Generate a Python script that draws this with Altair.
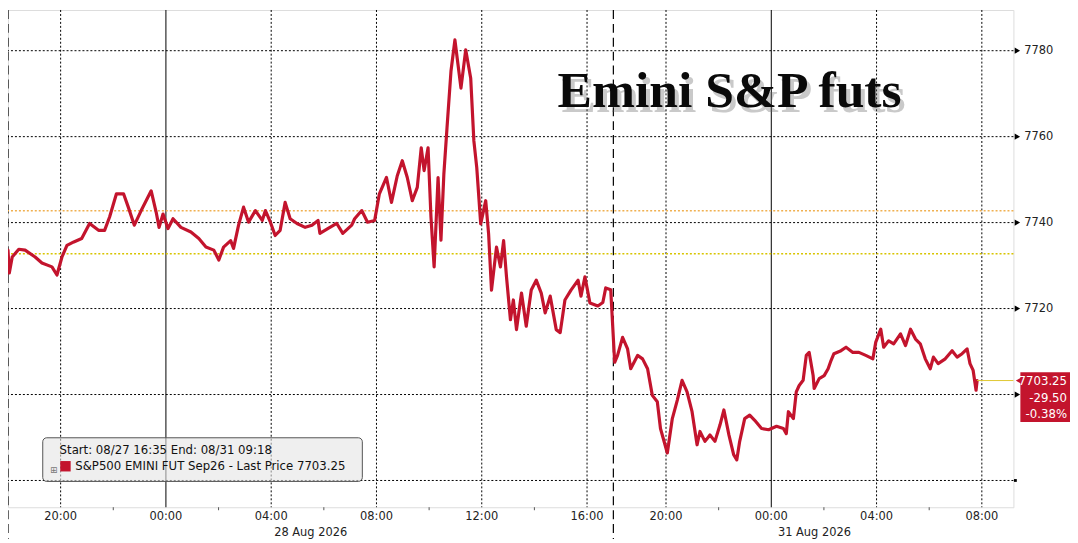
import altair as alt
import pandas as pd

# ---------------- data ----------------
# x = trading-session hours since Thu 27 Aug 18:00 (weekend gap removed:
# Fri 17:00 == Sun 18:00 == 23), y = last price
hours = [0.00, 0.05, 0.16, 0.41, 0.65, 1.03, 1.29, 1.67, 1.86, 2.05,
         2.24, 2.50, 2.80, 3.10, 3.44, 3.67, 3.86, 4.12, 4.39, 4.57,
         4.80, 5.06, 5.44, 5.63, 5.74, 5.89, 6.08, 6.27, 6.57, 6.95,
         7.25, 7.52, 7.82, 8.01, 8.19, 8.46, 8.57, 8.76, 8.95, 9.14,
         9.40, 9.66, 9.78, 9.97, 10.15, 10.34, 10.53, 10.72, 10.98, 11.29,
         11.55, 11.78, 11.85, 12.15, 12.49, 12.72, 13.06, 13.17, 13.44, 13.66,
         13.93, 14.11, 14.38, 14.57, 14.79, 14.98, 15.17, 15.36, 15.55, 15.70,
         15.81, 15.96, 16.07, 16.19, 16.34, 16.45, 16.56, 16.68, 16.83, 16.98,
         17.21, 17.39, 17.58, 17.70, 17.81, 17.96, 18.15, 18.26, 18.37, 18.56,
         18.71, 18.83, 18.94, 19.09, 19.20, 19.32, 19.51, 19.69, 19.88, 20.07,
         20.26, 20.41, 20.60, 20.83, 20.98, 21.16, 21.39, 21.66, 21.77, 21.92,
         22.11, 22.41, 22.60, 22.71, 22.90, 23.05, 23.16, 23.35, 23.54, 23.66,
         23.92, 24.11, 24.30, 24.48, 24.67, 24.79, 25.05, 25.24, 25.43, 25.61,
         25.80, 25.99, 26.18, 26.29, 26.48, 26.67, 26.86, 27.05, 27.20, 27.39,
         27.57, 27.69, 27.80, 27.99, 28.18, 28.37, 28.63, 28.90, 29.20, 29.46,
         29.57, 29.65, 29.84, 29.95, 30.06, 30.21, 30.33, 30.44, 30.59, 30.63,
         30.82, 31.01, 31.16, 31.27, 31.38, 31.65, 31.84, 32.10, 32.33, 32.59,
         32.86, 32.97, 33.16, 33.27, 33.46, 33.65, 33.91, 34.10, 34.29, 34.48,
         34.66, 34.85, 35.04, 35.16, 35.34, 35.61, 35.87, 36.06, 36.25, 36.44,
         36.55, 36.67, 36.78, 36.82]
prices = [7733.6, 7728.3, 7732.0, 7733.8, 7733.6, 7732.0, 7730.6, 7729.7, 7727.8, 7732.0,
          7734.7, 7735.5, 7736.3, 7739.8, 7738.2, 7738.2, 7741.3, 7746.7, 7746.7, 7743.6,
          7739.4, 7742.8, 7747.4, 7742.4, 7738.9, 7742.0, 7738.6, 7740.9, 7738.9, 7737.8,
          7736.3, 7734.3, 7733.6, 7731.3, 7734.3, 7735.8, 7734.0, 7739.4, 7743.6, 7740.1,
          7742.8, 7740.5, 7742.8, 7740.1, 7737.0, 7738.2, 7744.7, 7740.9, 7739.8, 7738.9,
          7739.4, 7740.5, 7737.5, 7738.6, 7739.8, 7737.5, 7739.4, 7740.9, 7742.8, 7740.1,
          7740.5, 7746.7, 7750.5, 7744.7, 7750.9, 7754.4, 7750.5, 7745.1, 7748.2, 7757.4,
          7752.1, 7757.4, 7741.3, 7729.7, 7750.5, 7735.9, 7751.3, 7762.1, 7775.2, 7782.5,
          7771.3, 7780.2, 7773.6, 7759.0, 7752.8, 7739.7, 7745.1, 7737.4, 7724.3, 7734.3,
          7729.7, 7735.8, 7727.4, 7717.4, 7722.0, 7715.1, 7723.6, 7715.9, 7724.3, 7726.6,
          7723.6, 7719.0, 7722.9, 7715.1, 7714.4, 7722.0, 7724.3, 7726.6, 7722.9, 7727.4,
          7721.3, 7720.6, 7721.4, 7724.8, 7724.4, 7707.5, 7709.1, 7713.3, 7710.6, 7706.0,
          7709.1, 7708.3, 7706.0, 7699.8, 7698.3, 7692.1, 7686.4, 7694.4, 7698.7, 7703.3,
          7700.6, 7696.0, 7688.3, 7691.4, 7689.1, 7690.6, 7689.1, 7692.9, 7696.4, 7690.6,
          7686.0, 7684.8, 7689.1, 7694.4, 7695.2, 7694.0, 7692.1, 7691.8, 7692.6, 7692.1,
          7690.9, 7696.0, 7694.4, 7700.6, 7702.1, 7703.3, 7709.1, 7709.8, 7704.4, 7701.4,
          7703.7, 7704.4, 7706.0, 7707.9, 7709.5, 7710.2, 7711.0, 7709.8, 7709.8, 7709.1,
          7708.3, 7712.2, 7715.2, 7711.0, 7712.5, 7711.8, 7714.1, 7711.4, 7715.2, 7712.9,
          7711.8, 7708.3, 7706.0, 7708.7, 7707.2, 7708.3, 7710.2, 7708.7, 7709.5, 7710.6,
          7707.2, 7705.6, 7701.0, 7703.25]

series_name = "S&P500 EMINI FUT Sep26 - Last Price 7703.25"
legend_title = "Start: 08/27 16:35 End: 08/31 09:18"
chart_title = "Emini S&P futs"

last_price = 7703.25
prev_close = 7732.75
orange_level = 7742.75
box_lines = ["7703.25", "-29.50", "-0.38%"]

time_ticks = [2, 6, 10, 14, 18, 22, 25, 29, 33, 37]
time_labels = ["20:00", "00:00", "04:00", "08:00", "12:00", "16:00",
               "20:00", "00:00", "04:00", "08:00"]
dotted_times = [2, 10, 14, 18, 22, 25, 33, 37]
midnights = [6, 29]
session_breaks = [0, 23]
minor_ticks = [4, 8, 12, 16, 20, 27, 31, 35]
price_ticks = [7680, 7700, 7720, 7740, 7760, 7780]
price_labels = ["7720", "7740", "7760", "7780"]
price_label_vals = [7720, 7740, 7760, 7780]
marker_ticks = [7700, 7720, 7740, 7760, 7780]
date_centers = [11.5, 30.64]
date_labels = ["28 Aug 2026", "31 Aug 2026"]

# ---------------- layout ----------------
W, H = 1013, 501
RED = "#c3142d"
FONT = "DejaVu Sans"

xs = alt.Scale(domain=[0, 38.2], nice=False, zero=False)
ys = alt.Scale(domain=[7673.77, 7789.47], nice=False, zero=False)

price_df = pd.DataFrame({"t": hours, "price": prices, "series": series_name})

hgrid = alt.Chart(pd.DataFrame({"v": price_ticks})).mark_rule(
    color="#000", strokeWidth=1, strokeDash=[2, 2]
).encode(y=alt.Y("v:Q", scale=ys, axis=None))

vgrid = alt.Chart(pd.DataFrame({"t": dotted_times})).mark_rule(
    color="#000", strokeWidth=1, strokeDash=[2, 2]
).encode(x=alt.X("t:Q", scale=xs, axis=None))

vmid = alt.Chart(pd.DataFrame({"t": midnights})).mark_rule(
    color="#000", strokeWidth=1
).encode(x=alt.X("t:Q", scale=xs, axis=None))

vbreak = alt.Chart(pd.DataFrame({"t": session_breaks})).mark_rule(
    color="#000", strokeWidth=1.2, strokeDash=[9, 5]
).encode(x=alt.X("t:Q", scale=xs, axis=None), y=alt.value(0), y2=alt.value(H + 32))

minor = alt.Chart(pd.DataFrame({"t": minor_ticks})).mark_rule(
    color="#555", strokeWidth=1
).encode(x=alt.X("t:Q", scale=xs, axis=None), y=alt.value(H), y2=alt.value(H + 3))

orange = alt.Chart(pd.DataFrame({"v": [orange_level]})).mark_rule(
    color="#f0b050", strokeWidth=1.5, strokeDash=[2, 2]
).encode(y=alt.Y("v:Q", scale=ys, axis=None))

yellow = alt.Chart(pd.DataFrame({"v": [prev_close]})).mark_rule(
    color="#d8c400", strokeWidth=1.6, strokeDash=[2, 2]
).encode(y=alt.Y("v:Q", scale=ys, axis=None))

line = alt.Chart(price_df).mark_line(
    strokeWidth=3.2, strokeJoin="round", strokeCap="round"
).encode(
    x=alt.X(
        "t:Q", scale=xs,
        axis=alt.Axis(orient="bottom", title=None, ticks=False, labels=False,
                      grid=False, domainColor="#000", domainWidth=1),
    ),
    y=alt.Y(
        "price:Q", scale=ys,
        axis=alt.Axis(orient="right", title=None, ticks=False, labels=False,
                      grid=False, domainColor="#000", domainWidth=1),
    ),
    color=alt.Color(
        "series:N", scale=alt.Scale(range=[RED]),
        legend=alt.Legend(
            orient="none", legendX=52, legendY=438, title=legend_title,
            titleFont=FONT, titleFontSize=11.8, titleFontWeight="normal",
            titleColor="#111", titlePadding=4, padding=0, titleLimit=600,
            labelFont=FONT, labelFontSize=11.8, labelColor="#111",
            labelOffset=4, labelLimit=600,
            symbolType="square", symbolSize=110, symbolFillColor=RED,
            symbolStrokeColor=RED, symbolStrokeWidth=0,
        ),
    ),
)

x_labels = alt.Chart(pd.DataFrame({"t": time_ticks, "lab": time_labels})).mark_text(
    align="center", baseline="middle", font=FONT, fontSize=11.5, color="#222"
).encode(x=alt.X("t:Q", scale=xs, axis=None), y=alt.value(H + 10), text="lab:N")

y_labels = alt.Chart(pd.DataFrame({"v": price_label_vals, "lab": price_labels})).mark_text(
    align="left", baseline="middle", font=FONT, fontSize=11.5, color="#222"
).encode(y=alt.Y("v:Q", scale=ys, axis=None), x=alt.value(W + 11), text="lab:N")

last_rule = alt.Chart(pd.DataFrame({"t": [hours[-1]], "v": [last_price]})).mark_rule(
    color="#e0c830", strokeWidth=1
).encode(x=alt.X("t:Q", scale=xs, axis=None), x2=alt.value(W),
         y=alt.Y("v:Q", scale=ys, axis=None))

markers = alt.Chart(pd.DataFrame({"v": marker_ticks})).mark_point(
    shape="triangle-right", filled=True, color="#000", size=40, opacity=1
).encode(x=alt.value(W + 4), y=alt.Y("v:Q", scale=ys, axis=None))

dot7680 = alt.Chart(pd.DataFrame({"v": [7680]})).mark_point(
    shape="square", filled=True, color="#000", size=8, opacity=1
).encode(x=alt.value(W + 2), y=alt.Y("v:Q", scale=ys, axis=None))

box = alt.Chart(pd.DataFrame({"v": [last_price]})).mark_rect(color=RED).encode(
    x=alt.value(W + 7), x2=alt.value(W + 60), y=alt.value(365), y2=alt.value(415)
)
box_tip = alt.Chart(pd.DataFrame({"v": [last_price]})).mark_point(
    shape="triangle-left", filled=True, color=RED, size=70, opacity=1
).encode(x=alt.value(W + 6), y=alt.Y("v:Q", scale=ys, axis=None))

box_texts = []
for i, row_y in enumerate([374, 391, 407]):
    box_texts.append(
        alt.Chart(pd.DataFrame({"txt": [box_lines[i]]})).mark_text(
            align="right", baseline="middle", font=FONT, fontSize=11.8, color="#ffffff"
        ).encode(text="txt:N", x=alt.value(W + 54), y=alt.value(row_y))
    )

dates = alt.Chart(pd.DataFrame({"t": date_centers, "d": date_labels})).mark_text(
    align="center", baseline="middle", font=FONT, fontSize=11.5, color="#222"
).encode(x=alt.X("t:Q", scale=xs, axis=None), y=alt.value(H + 26), text="d:N")

legend_box = alt.Chart(pd.DataFrame({"k": [0]})).mark_rect(
    fill="#e4e4e4", fillOpacity=0.6, stroke="#555", strokeWidth=1, cornerRadius=4
).encode(x=alt.value(35), x2=alt.value(357), y=alt.value(431), y2=alt.value(475))
legend_icon = alt.Chart(pd.DataFrame({"k": ["\u229e"]})).mark_text(
    font=FONT, fontSize=9, color="#777", align="center", baseline="middle"
).encode(text="k:N", x=alt.value(46), y=alt.value(463))

tdf = pd.DataFrame({"txt": [chart_title]})
shadow = alt.Chart(tdf).mark_text(
    font="Liberation Serif", fontSize=52, fontWeight="bold",
    align="center", baseline="alphabetic", color="#666", opacity=0.35
).encode(text="txt:N", x=alt.value(731), y=alt.value(103))
title_txt = alt.Chart(tdf).mark_text(
    font="Liberation Serif", fontSize=52, fontWeight="bold",
    align="center", baseline="alphabetic", color="#0a0a0a"
).encode(text="txt:N", x=alt.value(727), y=alt.value(98))

chart = alt.layer(
    hgrid, vgrid, vmid, vbreak, minor, orange, yellow, legend_box, legend_icon,
    shadow, title_txt, line, last_rule, markers, dot7680, x_labels, y_labels,
    box, box_tip, *box_texts, dates,
).properties(
    width=W, height=H,
    autosize=alt.AutoSizeParams(type="none"),
    padding={"left": 0, "top": 0, "right": 57, "bottom": 32},
).configure_view(strokeWidth=0).configure(background="#ffffff")

chart.save("out.html", embed_options={"renderer": "svg", "actions": False})
